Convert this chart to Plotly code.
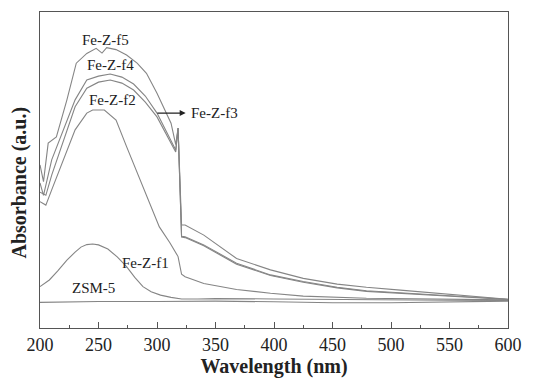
import plotly.graph_objects as go

# ---- data (wavelength nm, absorbance in arbitrary units) ----
zsm_x = [200, 250, 300, 350, 400, 450, 500, 550, 600]
zsm_y = [8.1, 8.4, 8.4, 8.5, 8.3, 8.0, 8.0, 8.2, 8.5]

f1_x = [200, 208, 215, 223, 230, 235, 240, 245, 250, 258, 266, 274, 281, 288, 295, 303, 312, 321, 335, 350, 400, 450, 500, 550, 600]
f1_y = [13.1, 15.2, 18.0, 21.5, 24.0, 25.6, 26.4, 26.6, 26.3, 25.0, 22.5, 19.4, 16.0, 13.1, 11.5, 10.4, 9.7, 9.2, 9.2, 9.3, 9.2, 9.0, 8.9, 8.8, 8.7]

f2_x = [200, 205, 210, 220, 230, 240, 245, 255, 265, 274, 288, 302, 311, 318, 321, 324, 340, 368, 397, 425, 479, 550, 600]
f2_y = [40.0, 38.9, 43.7, 53.2, 62.7, 68.0, 69.0, 69.0, 65.8, 57.4, 44.7, 32.0, 27.0, 22.6, 17.0, 16.2, 14.1, 12.2, 11.0, 10.1, 9.4, 9.1, 8.9]

f3_x = [200, 205, 210, 220, 230, 240, 250, 260, 270, 280, 290, 300, 310, 316, 318, 321, 324, 340, 368, 397, 425, 454, 479, 508, 565, 600]
f3_y = [43.0, 42.0, 48.4, 59.5, 70.0, 75.9, 77.8, 78.5, 77.5, 75.3, 71.5, 66.8, 60.1, 55.7, 63.3, 28.8, 28.6, 26.0, 20.2, 16.6, 14.5, 12.7, 11.6, 11.0, 9.7, 9.0]

f4_x = [200, 203, 210, 220, 230, 240, 250, 260, 270, 280, 290, 300, 310, 316, 318, 321, 324, 340, 368, 397, 425, 454, 479, 508, 565, 600]
f4_y = [45.9, 42.0, 53.2, 62.7, 72.2, 78.5, 79.7, 80.4, 79.4, 77.2, 73.4, 68.0, 61.0, 56.3, 63.3, 29.0, 28.9, 26.3, 20.5, 16.8, 14.7, 12.9, 11.8, 11.2, 9.8, 9.1]

f5_x = [200, 203, 207, 214, 223, 231, 240, 248, 253, 257, 265, 274, 283, 291, 300, 308, 312, 316, 318, 321, 324, 340, 368, 397, 425, 454, 479, 508, 565, 600]
f5_y = [51.6, 46.3, 58.5, 60.5, 72.2, 83.8, 86.9, 88.5, 87.0, 88.7, 88.1, 86.4, 83.8, 80.6, 74.3, 67.9, 64.8, 58.0, 63.3, 32.6, 32.6, 29.4, 22.0, 18.4, 15.7, 13.9, 12.9, 12.0, 10.1, 9.1]

x_ticks = [200, 250, 300, 350, 400, 450, 500, 550, 600]

series = [
    ("ZSM-5", zsm_x, zsm_y),
    ("Fe-Z-f1", f1_x, f1_y),
    ("Fe-Z-f2", f2_x, f2_y),
    ("Fe-Z-f3", f3_x, f3_y),
    ("Fe-Z-f4", f4_x, f4_y),
    ("Fe-Z-f5", f5_x, f5_y),
]

# label positions (wavelength, absorbance)
labels = [
    ("Fe-Z-f5", 256, 91.0),
    ("Fe-Z-f4", 260, 83.2),
    ("Fe-Z-f2", 262, 72.2),
    ("Fe-Z-f1", 290, 20.5),
    ("ZSM-5", 246, 12.6),
]

LINE = "#858585"
TXT = "#222222"
SERIF = "Liberation Serif, Times New Roman, serif"

fig = go.Figure()
for name, xs, ys in series:
    fig.add_trace(go.Scatter(x=xs, y=ys, mode="lines", name=name,
                             line=dict(color=LINE, width=1.1), showlegend=False))

for text, lx, ly in labels:
    fig.add_annotation(x=lx, y=ly, text=text, showarrow=False,
                       font=dict(family=SERIF, size=15, color=TXT))

# Fe-Z-f3 label with arrow
fig.add_annotation(x=324.5, y=68.0, ax=299.0, ay=68.0, axref="x", ayref="y",
                   text="", showarrow=True, arrowhead=2, arrowsize=1,
                   arrowwidth=1.2, arrowcolor=TXT)
fig.add_annotation(x=327, y=68.0, text="Fe-Z-f3", showarrow=False, xanchor="left",
                   font=dict(family=SERIF, size=15, color=TXT))

# y-axis title (placed slightly below centre as in the reference)
fig.add_annotation(xref="paper", yref="paper", x=-0.043, y=0.46,
                   text="<b>Absorbance (a.u.)</b>", textangle=-90, showarrow=False,
                   xanchor="center", yanchor="middle",
                   font=dict(family=SERIF, size=20, color=TXT))

fig.update_layout(
    width=533, height=380,
    margin=dict(l=32, r=33, t=4, b=60),
    paper_bgcolor="white", plot_bgcolor="white",
    font=dict(family=SERIF, color=TXT),
)
fig.update_xaxes(
    range=[200, 600], tickvals=x_ticks, ticktext=[str(v) for v in x_ticks],
    ticks="inside", ticklen=6, tickcolor="#555555", tickwidth=1,
    minor=dict(ticks="inside", ticklen=3, dtick=25, tickcolor="#555555"),
    showline=True, linecolor="#555555", linewidth=1.2, mirror=True,
    showgrid=False, zeroline=False,
    tickfont=dict(family=SERIF, size=18, color=TXT),
    title=dict(text="<b>Wavelength (nm)</b>", standoff=2,
               font=dict(family=SERIF, size=20, color=TXT)),
)
fig.update_yaxes(
    range=[0, 100], showticklabels=False, ticks="",
    showline=True, linecolor="#555555", linewidth=1.2, mirror=True,
    showgrid=False, zeroline=False,
)

fig.write_html("out.html")
